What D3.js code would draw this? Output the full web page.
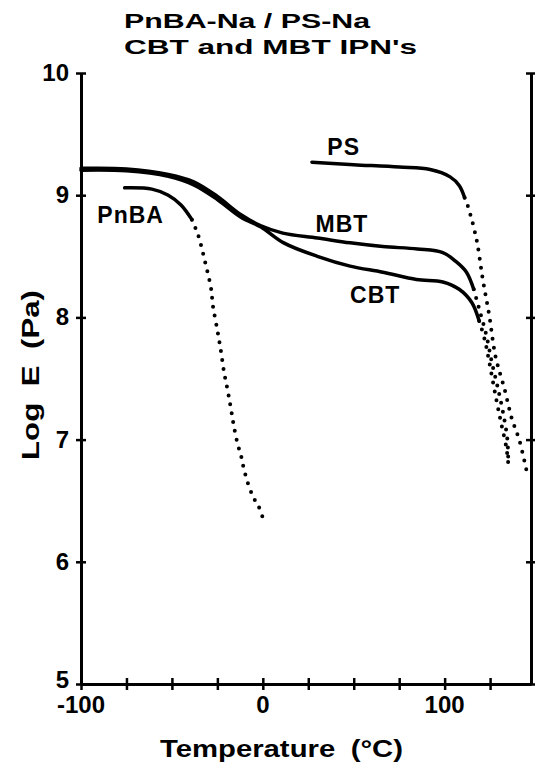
<!DOCTYPE html>
<html>
<head>
<meta charset="utf-8">
<title>PnBA-Na / PS-Na CBT and MBT IPN's</title>
<script src="https://d3js.org/d3.v7.min.js"></script>
<style>
  body { margin: 0; background: #fff; }
  text { font-family: "Liberation Sans", Arial, sans-serif; font-weight: bold; fill: #000; }
</style>
</head>
<body>
<script>
// data: [temperature in C, log E in Pa]
var mbtSolid = [[-100, 9.22], [-75, 9.215], [-52, 9.17], [-38, 9.11], [-25, 8.99], [-12, 8.84], [-1, 8.75], [11, 8.69], [30, 8.65], [48, 8.61], [66, 8.58], [85, 8.56], [99, 8.53], [106, 8.46], [112, 8.37], [116, 8.23]];
var mbtDotted = [[116, 8.23], [119, 8.07], [123, 7.85], [126, 7.63], [129, 7.44], [132, 7.23], [134.5, 7.0], [135, 6.8]];
var cbtSolid = [[-100, 9.205], [-75, 9.2], [-52, 9.155], [-38, 9.085], [-25, 8.965], [-12, 8.82], [-1, 8.74], [11.5, 8.61], [30, 8.5], [48, 8.42], [66, 8.37], [84.5, 8.31], [99, 8.29], [108, 8.23], [115, 8.12], [119, 7.97]];
var cbtDotted = [[119, 7.97], [122, 7.82], [124.6, 7.63], [128, 7.36], [131, 7.14], [134, 6.93], [135, 6.8]];
var psSolid = [[27, 9.27], [50, 9.25], [75, 9.23], [92, 9.21], [103, 9.15], [108, 9.08], [111, 8.98]];
var psDotted = [[111, 8.98], [113, 8.9], [117.5, 8.64], [121, 8.31], [124.6, 8.01], [128, 7.68], [133, 7.41], [137, 7.17], [141, 7.0], [145, 6.75]];
var pnbaSolid = [[-76, 9.06], [-61, 9.05], [-52, 9.0], [-45, 8.92], [-39, 8.8]];
var pnbaDotted = [[-39, 8.8], [-35.5, 8.67], [-32, 8.47], [-28.4, 8.23], [-27.5, 8.1], [-24.8, 7.88], [-23, 7.72], [-21.3, 7.55], [-19.3, 7.4], [-17.5, 7.25], [-15.8, 7.1], [-13.8, 6.96], [-12, 6.87], [-10.4, 6.76], [-7.7, 6.62], [-4.9, 6.52], [-2.2, 6.45], [0.4, 6.34]];

var xTicks = [-100, -75, -50, -25, 0, 25, 50, 75, 100, 125];
var xLabels = [-100, 0, 100];
var yTicks = [5, 6, 7, 8, 9, 10];
var curveLabels = [["PS", 35.5, 9.33], ["MBT", 29, 8.7], ["CBT", 48, 8.12], ["PnBA", -91, 8.77]];
var titleLines = ["PnBA-Na / PS-Na", "CBT and MBT IPN's"];

var W = 535, H = 767;
var mLeft = 81, mRight = 531, mTop = 73, mBottom = 684;

var svg = d3.select("body").append("svg")
    .attr("width", W)
    .attr("height", H);

var x = d3.scaleLinear().domain([-100, 147.5]).range([mLeft, mRight]);
var y = d3.scaleLinear().domain([5, 10]).range([mBottom, mTop]);

// axes (ticks stick out on both sides)
function crossTicks(g, dir) {
    g.select(".domain").attr("stroke-width", 3).attr("stroke", "#000");
    g.selectAll(".tick line").attr("stroke-width", 2.5).attr("stroke", "#000");
    if (dir == "h") g.selectAll(".tick line").attr("y1", -6).attr("y2", 6);
    else g.selectAll(".tick line").attr("x1", -5).attr("x2", 5);
    g.selectAll(".tick text").remove();
}

svg.append("g")
    .attr("transform", "translate(0," + mBottom + ")")
    .call(d3.axisBottom(x).tickValues(xTicks).tickSizeOuter(0))
    .call(crossTicks, "h");

svg.append("g")
    .attr("transform", "translate(" + mLeft + ",0)")
    .call(d3.axisLeft(y).tickValues(yTicks).tickSizeOuter(0))
    .call(crossTicks, "v");

svg.append("g")
    .attr("transform", "translate(" + mRight + ",0)")
    .call(d3.axisRight(y).tickValues(yTicks).tickSizeOuter(0))
    .call(crossTicks, "v");

// tick labels
svg.selectAll(".ylab")
    .data(yTicks)
    .enter()
    .append("text")
    .attr("x", mLeft - 12)
    .attr("y", function(d) { return y(d) + (d == 5 ? 4 : 8); })
    .attr("text-anchor", "end")
    .style("font-size", "24px")
    .text(function(d) { return d; });

svg.selectAll(".xlab")
    .data(xLabels)
    .enter()
    .append("text")
    .attr("x", function(d) { return x(d); })
    .attr("y", mBottom + 29)
    .attr("text-anchor", "middle")
    .style("font-size", "24px")
    .text(function(d) { return d; });

// axis titles
svg.append("text")
    .attr("x", 160)
    .attr("y", 757)
    .attr("textLength", 243)
    .attr("lengthAdjust", "spacingAndGlyphs")
    .style("font-size", "24px")
    .style("word-spacing", "6px")
    .text("Temperature (\u00b0C)");

svg.append("text")
    .attr("transform", "translate(39,460)rotate(-90)")
    .attr("textLength", 170)
    .attr("lengthAdjust", "spacingAndGlyphs")
    .style("font-size", "24px")
    .style("word-spacing", "6px")
    .text("Log E (Pa)");

// title
var titleWidths = [246, 293];
svg.selectAll(".title")
    .data(titleLines)
    .enter()
    .append("text")
    .attr("x", 124)
    .attr("y", function(d, i) { return 28 + i * 26; })
    .attr("textLength", function(d, i) { return titleWidths[i]; })
    .attr("lengthAdjust", "spacingAndGlyphs")
    .style("font-size", "21px")
    .text(function(d) { return d; });

// curves
var line = d3.line()
    .x(function(d) { return x(d[0]); })
    .y(function(d) { return y(d[1]); })
    .curve(d3.curveCatmullRom);

svg.selectAll(".solid")
    .data([mbtSolid, cbtSolid, psSolid, pnbaSolid])
    .enter()
    .append("path")
    .attr("d", line)
    .attr("fill", "none")
    .attr("stroke", "#000")
    .attr("stroke-width", 3.5)
    .attr("stroke-linecap", "round");

svg.selectAll(".dotted")
    .data([mbtDotted, cbtDotted, psDotted, pnbaDotted])
    .enter()
    .append("path")
    .attr("d", line)
    .attr("fill", "none")
    .attr("stroke", "#000")
    .attr("stroke-width", 4)
    .attr("stroke-linecap", "round")
    .attr("stroke-dasharray", "0 9");

svg.selectAll(".clab")
    .data(curveLabels)
    .enter()
    .append("text")
    .attr("x", function(d) { return x(d[1]); })
    .attr("y", function(d) { return y(d[2]); })
    .style("font-size", "23px")
    .style("letter-spacing", "1px")
    .text(function(d) { return d[0]; });
</script>
</body>
</html>
